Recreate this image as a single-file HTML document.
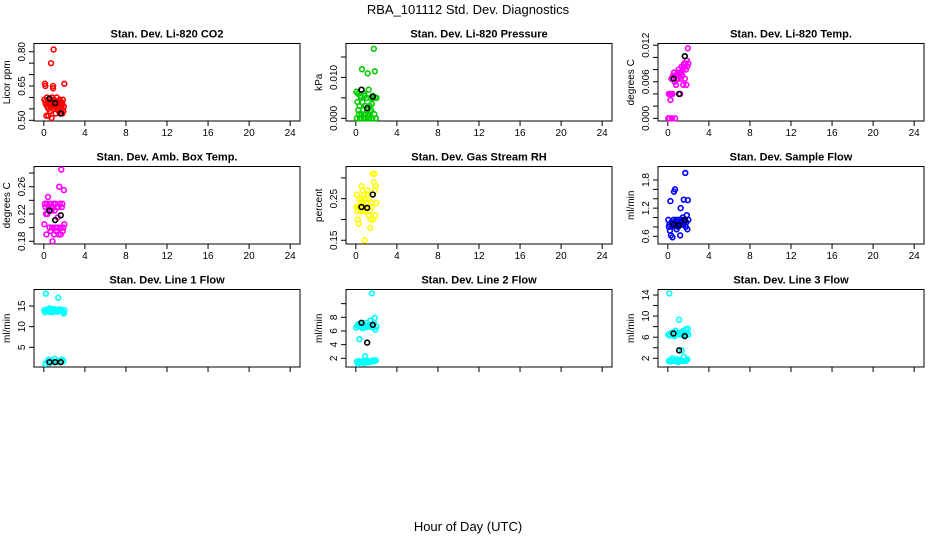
<!DOCTYPE html>
<html><head><meta charset="utf-8"><style>
body{margin:0;background:#fff}
svg text{font-family:"Liberation Sans",sans-serif;fill:#000}
</style></head><body>
<svg id="chart" width="936" height="540" viewBox="0 0 936 540" xmlns="http://www.w3.org/2000/svg">
<text x="468" y="14" font-size="13" text-anchor="middle">RBA_101112  Std. Dev. Diagnostics</text>
<text x="468" y="531" font-size="13" text-anchor="middle">Hour of Day (UTC)</text>
</svg>
<script>
const hours = [0.05,0.1,0.15,0.2,0.25,0.3,0.35,0.4,0.45,0.5,0.55,0.6,0.65,0.7,0.75,0.8,0.85,0.9,0.95,1.0,1.05,1.1,1.15,1.2,1.25,1.3,1.35,1.4,1.45,1.5,1.55,1.6,1.65,1.7,1.75,1.8,1.85,1.9,1.95,2.0];
const blackHours = [0.55,1.1,1.65];
const xTicks = [0,4,8,12,16,20,24];

const co2Vals = [0.59,0.66,0.58,0.57,0.52,0.60,0.56,0.58,0.55,0.59,0.57,0.54,0.58,0.56,0.51,0.60,0.57,0.64,0.55,0.59,0.56,0.58,0.53,0.57,0.60,0.55,0.56,0.58,0.54,0.57,0.59,0.53,0.56,0.58,0.55,0.57,0.59,0.54,0.56,0.66];
const co2ExtraX = [0.95,0.7,0.15,0.9,0.45,1.8];
const co2ExtraY = [0.81,0.75,0.65,0.65,0.52,0.53];
const co2Black = [0.595,0.575,0.53];
const pressVals = [0.0065,0.000,0.004,0.006,0.002,0.001,0.003,0.000,0.0055,0.005,0.001,0.0120,0.004,0.002,0.000,0.006,0.0055,0.001,0.003,0.000,0.005,0.002,0.0110,0.001,0.007,0.000,0.003,0.0015,0.005,0.002,0.0035,0.000,0.0055,0.005,0.0170,0.001,0.0115,0.005,0.000,0.005];
const pressBlack = [0.007,0.0025,0.0053];
const tempVals = [0.000,0.004,0.000,0.004,0.003,0.004,0.0065,0.000,0.004,0.007,0.0065,0.0075,0.006,0.000,0.007,0.0055,0.007,0.0065,0.0075,0.0065,0.008,0.007,0.0075,0.004,0.0065,0.0075,0.0085,0.007,0.008,0.0055,0.0085,0.009,0.0065,0.009,0.008,0.0055,0.0095,0.0085,0.0115,0.009];
const tempBlack = [0.0065,0.004,0.0102];
const ambVals = [0.205,0.235,0.23,0.22,0.19,0.235,0.22,0.245,0.23,0.225,0.20,0.235,0.195,0.23,0.225,0.20,0.18,0.23,0.235,0.19,0.225,0.20,0.235,0.195,0.23,0.20,0.215,0.23,0.19,0.26,0.235,0.20,0.19,0.285,0.23,0.235,0.195,0.20,0.255,0.205];
const ambBlack = [0.225,0.211,0.218];
const rhVals = [0.23,0.26,0.22,0.20,0.23,0.19,0.25,0.23,0.22,0.24,0.28,0.25,0.27,0.22,0.24,0.26,0.15,0.23,0.25,0.22,0.24,0.26,0.27,0.23,0.21,0.25,0.22,0.18,0.20,0.24,0.23,0.26,0.31,0.20,0.29,0.31,0.27,0.21,0.28,0.24];
const rhBlack = [0.23,0.228,0.26];
const sampleVals = [0.95,0.8,0.85,0.72,1.35,0.62,0.9,0.85,0.58,0.82,0.95,1.55,0.9,1.6,0.82,0.95,0.75,0.92,0.85,0.8,0.95,0.85,0.9,0.62,1.2,0.85,0.9,0.95,1.0,0.85,1.38,0.9,0.95,1.95,0.8,0.9,1.05,0.75,1.37,0.95];
const sampleBlack = [0.855,0.835,0.95];
const line1Vals = [14,13.5,1.0,18,14,13.8,1.5,14.2,2.0,13.6,14.4,1.2,13.9,14.1,1.8,13.5,14.3,1.5,14,13.7,2.2,14.2,13.8,1.6,14.0,13.6,1.4,17,14.1,13.9,1.8,14.2,1.5,13.7,14,2.0,13.5,1.6,13.2,14];
const line1Black = [1.4,1.4,1.4];
const line2Vals = [6.5,1.5,6.8,1.2,7,1.6,4.8,6.7,1.4,6.6,7.1,1.5,6.4,1.6,6.9,1.3,6.5,2.3,6.8,1.5,7.2,6.6,1.4,6.7,1.6,6.9,1.5,7.5,6.6,1.5,11.5,6.8,1.7,6.5,7.2,1.6,7.9,6.2,1.7,6.6];
const line2Black = [7.2,4.3,6.9];
const line3Vals = [6.5,1.5,14.3,6.3,1.4,6.8,1.6,6.6,2.0,6.9,1.5,6.4,6.2,1.6,7.2,1.5,6.7,1.8,6.6,1.3,6.8,9.3,1.6,6.5,1.5,6.9,3.5,6.7,1.5,7.2,2.3,6.6,1.5,6.4,7.5,1.6,6.8,1.8,7.6,6.5];
const line3Black = [6.7,3.5,6.2];

const panels = [
 {n:'co2',t:'Stan. Dev. Li-820 CO2',u:'Licor ppm',c:'#ff0000',v:co2Vals,ex:co2ExtraX,ey:co2ExtraY,b:co2Black,lo:0.497,hi:0.836,ticks:[0.50,0.55,0.60,0.65,0.70,0.75,0.80],labs:[0.50,0.65,0.80],d:2},
 {n:'pressure',t:'Stan. Dev. Li-820 Pressure',u:'kPa',c:'#00cd00',v:pressVals,b:pressBlack,lo:-0.00066,hi:0.0183,ticks:[0,0.005,0.010,0.015],labs:[0,0.010],d:3},
 {n:'temp',t:'Stan. Dev. Li-820 Temp.',u:'degrees C',c:'#ff00ff',v:tempVals,b:tempBlack,lo:-0.00044,hi:0.01228,ticks:[0,0.002,0.004,0.006,0.008,0.010,0.012],labs:[0,0.006,0.012],d:3},
 {n:'amb-box-temp',t:'Stan. Dev. Amb. Box Temp.',u:'degrees C',c:'#ff00ff',v:ambVals,b:ambBlack,lo:0.176,hi:0.2896,ticks:[0.18,0.20,0.22,0.24,0.26,0.28],labs:[0.18,0.22,0.26],d:2},
 {n:'gas-rh',t:'Stan. Dev. Gas Stream RH',u:'percent',c:'#ffff00',v:rhVals,b:rhBlack,lo:0.141,hi:0.3274,ticks:[0.15,0.20,0.25,0.30],labs:[0.15,0.25],d:2},
 {n:'sample-flow',t:'Stan. Dev. Sample Flow',u:'ml/min',c:'#0000ff',v:sampleVals,b:sampleBlack,lo:0.436,hi:2.087,ticks:[0.6,0.8,1.0,1.2,1.4,1.6,1.8],labs:[0.6,1.2,1.8],d:1},
 {n:'line1-flow',t:'Stan. Dev. Line 1 Flow',u:'ml/min',c:'#00ffff',v:line1Vals,b:line1Black,lo:0.23,hi:19.0,ticks:[5,10,15],labs:[5,10,15],d:0},
 {n:'line2-flow',t:'Stan. Dev. Line 2 Flow',u:'ml/min',c:'#00ffff',v:line2Vals,b:line2Black,lo:0.73,hi:12.07,ticks:[2,4,6,8,10],labs:[2,4,6,8],d:0},
 {n:'line3-flow',t:'Stan. Dev. Line 3 Flow',u:'ml/min',c:'#00ffff',v:line3Vals,b:line3Black,lo:0.35,hi:15.04,ticks:[2,4,6,8,10,12,14],labs:[2,6,10,14],d:0}
];
const NS='http://www.w3.org/2000/svg';
const svg=document.getElementById('chart');
function mk(tag,attrs,parent){const e=document.createElementNS(NS,tag);for(const k in attrs)e.setAttribute(k,attrs[k]);(parent||svg).appendChild(e);return e;}
const colLeft=[34,346,658], rowTop=[43.5,166.5,289.5], W=266, H=77.5;
panels.forEach((p,i)=>{
 const col=i%3,row=Math.floor(i/3);
 const L=colLeft[col],T=rowTop[row],R=L+W,B=T+H;
 const xs=h=>L+(h+0.96)/25.92*W;
 const ys=v=>B-(v-p.lo)/(p.hi-p.lo)*H;
 const g=mk('g',{});
 
 
 const tt=mk('text',{x:(L+R)/2,y:T-6,'font-size':11,'font-weight':'bold','text-anchor':'middle'},g);
 tt.textContent=p.t;
 
 
 const yt=mk('text',{x:L-24,y:(T+B)/2,'font-size':10,'text-anchor':'middle',transform:`rotate(-90 ${L-24} ${(T+B)/2})`},g);
 yt.textContent=p.u;
 
 
 const xa=mk('g',{stroke:'#000','stroke-width':1},g);
 
 
 mk('line',{x1:xs(0),x2:xs(24),y1:B,y2:B},xa);
 xTicks.forEach(t=>{
  mk('line',{x1:xs(t),x2:xs(t),y1:B,y2:B+5},xa);
  if(row<2){const tl=mk('text',{x:xs(t),y:B+15,'font-size':10,'text-anchor':'middle',stroke:'none'},xa);tl.textContent=t;
   
   }
 });
 const ya=mk('g',{stroke:'#000','stroke-width':1},g);
 
 
 mk('line',{x1:L,x2:L,y1:ys(p.ticks[0]),y2:ys(p.ticks[p.ticks.length-1])},ya);
 p.ticks.forEach(t=>mk('line',{x1:L-5,x2:L,y1:ys(t),y2:ys(t)},ya));
 p.labs.forEach(t=>{const y=ys(t),x=L-9;
  const tl=mk('text',{x:x,y:y,'font-size':10,'text-anchor':'middle',stroke:'none',transform:`rotate(-90 ${x} ${y})`},ya);
  tl.textContent=t.toFixed(p.d);
  
  });
 const box=mk('rect',{x:L,y:T,width:W,height:H,fill:'none',stroke:'#000','stroke-width':1},g);
 
 
 const pts=mk('g',{fill:'none',stroke:p.c,'stroke-width':1.6},g);
 
 
 p.v.forEach((v,k)=>{const c=mk('circle',{cx:xs(hours[k]),cy:ys(v),r:2.4},pts);
  
  });
 if(p.ex)p.ex.forEach((x,k)=>{const c=mk('circle',{cx:xs(x),cy:ys(p.ey[k]),r:2.4},pts);
  
  });
 const bp=mk('g',{fill:'none',stroke:'#000','stroke-width':1.6},g);
 
 
 p.b.forEach((v,k)=>{const c=mk('circle',{cx:xs(blackHours[k]),cy:ys(v),r:2.4},bp);
  
  });
});
</script>
</body></html>
